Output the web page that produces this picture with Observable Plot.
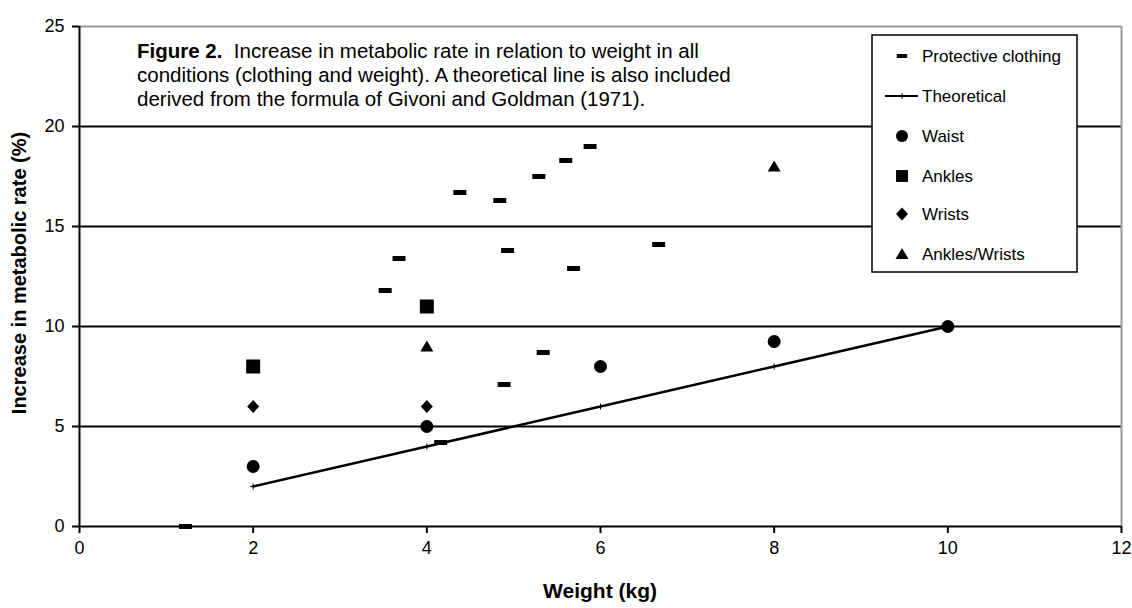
<!DOCTYPE html>
<html>
<head>
<meta charset="utf-8">
<script src="https://cdn.jsdelivr.net/npm/d3@7"></script>
<script src="https://cdn.jsdelivr.net/npm/@observablehq/plot@0.6"></script>
<style>
  html, body { margin: 0; padding: 0; background: white; }
  #chart { width: 1132px; height: 608px; }
</style>
</head>
<body>
<div id="chart"></div>
<script>
// ---- data ----
const xTicks = [0, 2, 4, 6, 8, 10, 12];
const yTicks = [0, 5, 10, 15, 20, 25];
const gridY = [5, 10, 15, 20];

const clothingX = [1.22, 3.52, 3.68, 4.16, 4.38, 4.84, 4.89, 4.93, 5.29, 5.34, 5.60, 5.69, 5.88, 6.67];
const clothingY = [0.0, 11.8, 13.4, 4.2, 16.7, 16.3, 7.1, 13.8, 17.5, 8.7, 18.3, 12.9, 19.0, 14.1];
const theoX = [2, 4, 6, 8, 10];
const theoY = [2, 4, 6, 8, 10];
const waistX = [2, 4, 6, 8, 10];
const waistY = [3, 5, 8, 9.25, 10];
const anklesX = [2, 4];
const anklesY = [8, 11];
const wristsX = [2, 4];
const wristsY = [6, 6];
const ankWristX = [4, 8];
const ankWristY = [9, 18];

const seriesNames = ["Protective clothing", "Theoretical", "Waist", "Ankles", "Wrists", "Ankles/Wrists"];
const titleLines = [
  ["Figure 2.", "  Increase in metabolic rate in relation to weight in all"],
  ["", "conditions (clothing and weight). A theoretical line is also included"],
  ["", "derived from the formula of Givoni and Goldman (1971)."]
];
const xLabel = "Weight (kg)";
const yLabel = "Increase in metabolic rate (%)";

// ---- helpers ----
const zip = (xs, ys) => xs.map((x, i) => ({x, y: ys[i]}));
const dashSym = {draw(c) { c.rect(-6.5, -2.5, 13, 5); }};
const squareSym = {draw(c) { c.rect(-7, -7, 14, 14); }};
const diamondSym = {draw(c) { c.moveTo(0, -6.5); c.lineTo(6, 0); c.lineTo(0, 6.5); c.lineTo(-6, 0); c.closePath(); }};
const triSym = {draw(c) { c.moveTo(0, -6); c.lineTo(6.5, 5); c.lineTo(-6.5, 5); c.closePath(); }};
const plusSym = {draw(c) { c.moveTo(-3, 0); c.lineTo(3, 0); c.moveTo(0, -3); c.lineTo(0, 3); }};

const FONT = "'Liberation Sans', Arial, sans-serif";

const plot = Plot.plot({
  width: 1132, height: 608,
  marginLeft: 79, marginRight: 11, marginTop: 26, marginBottom: 82,
  x: {domain: [0, 12]},
  y: {domain: [0, 25]},
  style: {fontFamily: FONT, fontSize: "18px", color: "black", background: "white"},
  marks: [
    Plot.ruleY(gridY, {stroke: "black", strokeWidth: 2}),
    Plot.ruleY([25], {stroke: "#999", strokeWidth: 2}),
    Plot.ruleX([12], {stroke: "#999", strokeWidth: 2}),
    Plot.axisY({ticks: yTicks, tickSize: 7, tickPadding: 8, strokeWidth: 2, label: null, fontSize: 18}),
    Plot.axisX({ticks: xTicks, tickSize: 7, tickPadding: 8, strokeWidth: 2, label: null, fontSize: 18}),
    Plot.ruleX([0], {stroke: "black", strokeWidth: 2}),
    Plot.ruleY([0], {stroke: "black", strokeWidth: 2}),
    Plot.line(zip(theoX, theoY), {x: "x", y: "y", stroke: "black", strokeWidth: 2.5}),
    Plot.dot(zip(theoX, theoY), {x: "x", y: "y", symbol: plusSym, stroke: "black", strokeWidth: 1}),
    Plot.dot(zip(clothingX, clothingY), {x: "x", y: "y", symbol: dashSym, fill: "black", stroke: "none"}),
    Plot.dot(zip(waistX, waistY), {x: "x", y: "y", symbol: "circle", r: 6.5, fill: "black", stroke: "none"}),
    Plot.dot(zip(anklesX, anklesY), {x: "x", y: "y", symbol: squareSym, fill: "black", stroke: "none"}),
    Plot.dot(zip(wristsX, wristsY), {x: "x", y: "y", symbol: diamondSym, fill: "black", stroke: "none"}),
    Plot.dot(zip(ankWristX, ankWristY), {x: "x", y: "y", symbol: triSym, fill: "black", stroke: "none"})
  ]
});

document.getElementById("chart").appendChild(plot);
const svg = d3.select(plot);

// axis titles
svg.append("text").attr("x", 600).attr("y", 598).attr("text-anchor", "middle")
  .attr("font-family", FONT).attr("font-size", 21).attr("font-weight", "bold").text(xLabel);
svg.append("text").attr("transform", "translate(26,273) rotate(-90)").attr("text-anchor", "middle")
  .attr("font-family", FONT).attr("font-size", 20).attr("font-weight", "bold").text(yLabel);

// title (figure caption inside the plot)
const title = svg.append("text").attr("font-family", FONT).attr("font-size", 20.5)
  .attr("text-anchor", "start").attr("xml:space", "preserve");
titleLines.forEach((ln, i) => {
  const t = title.append("tspan").attr("x", 137).attr("y", 58 + i * 24);
  if (ln[0]) t.append("tspan").attr("font-weight", "bold").text(ln[0]);
  t.append("tspan").text(ln[1]);
});

// legend
const lg = svg.append("g");
lg.append("rect").attr("x", 872).attr("y", 35).attr("width", 205).attr("height", 237)
  .attr("fill", "white").attr("stroke", "black").attr("stroke-width", 1.5);
const rowY = [56, 96, 136, 176, 214, 254];
const symX = 902;
const syms = [dashSym, null, d3.symbolCircle, squareSym, diamondSym, triSym];
seriesNames.forEach((name, i) => {
  const y = rowY[i];
  if (i === 1) {
    lg.append("line").attr("x1", 885).attr("x2", 918).attr("y1", y).attr("y2", y).attr("stroke", "black").attr("stroke-width", 2);
    lg.append("path").attr("transform", `translate(${symX},${y})`).attr("d", d3.symbol(plusSym)()).attr("stroke", "black").attr("fill", "none");
  } else {
    const s = syms[i];
    const path = s === d3.symbolCircle ? d3.symbol(d3.symbolCircle, 6 * 6 * Math.PI)() : d3.symbol(s)();
    lg.append("path").attr("transform", `translate(${symX},${y})` + (i === 0 ? " scale(0.8)" : (i === 3 ? " scale(0.85)" : ""))).attr("d", path).attr("fill", "black");
  }
  lg.append("text").attr("x", 922).attr("y", y + 6).attr("text-anchor", "start")
    .attr("font-family", FONT).attr("font-size", 17).text(name);
});
</script>
</body>
</html>
